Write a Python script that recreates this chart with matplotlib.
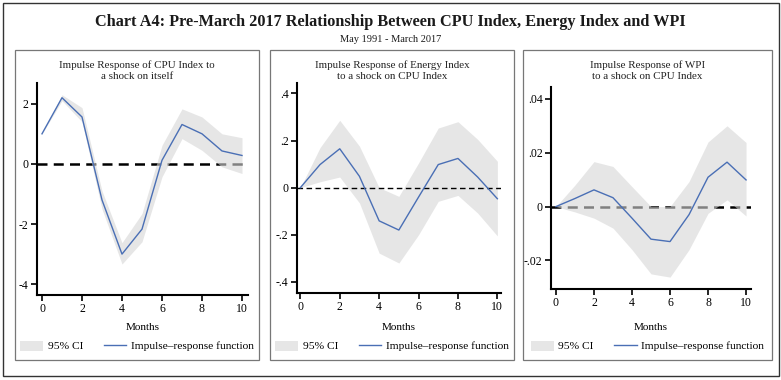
import numpy as np
import matplotlib
matplotlib.use("Agg")
import matplotlib.pyplot as plt
from matplotlib.patches import Rectangle, Patch
from matplotlib.lines import Line2D

plt.rcParams['font.family'] = ['Liberation Serif', 'DejaVu Serif']

months = list(range(11))

# CPU index response to own shock
cpu_irf = [1.0, 2.2, 1.56, -1.2, -3.0, -2.17, 0.12, 1.31, 1.0, 0.43, 0.28]
cpu_hi = [1.0, 2.3, 1.87, -0.9, -2.62, -1.65, 0.62, 1.83, 1.56, 1.0, 0.87]
cpu_lo = [1.0, 2.1, 1.4, -1.5, -3.33, -2.59, -0.43, 0.84, 0.45, -0.1, -0.32]

# Energy index response to CPU shock
energy_irf = [0.0, 0.098, 0.165, 0.048, -0.141, -0.18, -0.04, 0.098, 0.124, 0.045, -0.047]
energy_hi = [0.0, 0.17, 0.286, 0.176, 0.0, -0.037, 0.105, 0.253, 0.28, 0.205, 0.112]
energy_lo = [0.0, 0.025, 0.045, -0.065, -0.278, -0.32, -0.2, -0.058, -0.033, -0.108, -0.205]

# WPI response to CPU shock
wpi_irf = [0.0, 0.003, 0.0062, 0.0033, -0.0043, -0.0121, -0.013, -0.003, 0.0109, 0.0165, 0.0099]
wpi_hi = [0.0, 0.008, 0.0167, 0.0149, 0.0074, 0.0, 0.0, 0.0093, 0.024, 0.030, 0.0238]
wpi_lo = [0.0, -0.002, -0.0043, -0.008, -0.016, -0.025, -0.0262, -0.016, -0.0025, 0.0025, -0.0035]

titles = ["Impulse Response of CPU Index to\na shock on itself",
          "Impulse Response of Energy Index\nto a shock on CPU Index",
          "Impulse Response of WPI\nto a shock on CPU Index"]

W, H = 781, 380
fig = plt.figure(figsize=(W / 100, H / 100), dpi=100)


def fx(px):
    return px / W


def fy(py):
    return 1 - py / H


# outer frame
fig.patches.append(Rectangle((fx(3), fy(376)), fx(776), 373 / H, transform=fig.transFigure,
                             fill=False, edgecolor='#333333', lw=1.0))
fig.text(0.5, fy(22), "Chart A4: Pre-March 2017 Relationship Between CPU Index, Energy Index and WPI",
         ha='center', va='center', fontsize=11.7, fontweight='bold', color='#1a1a1a')
fig.text(0.5, fy(39), "May 1991 - March 2017", ha='center', va='center', fontsize=7.5, color='#1a1a1a')

panels = [
    dict(box=(15, 259), ax=(37, 83, 248, 295), ylim=(-4.36, 2.69), yticks=[-4, -2, 0, 2],
         ylabels=['-4', '-2', '0', '2'], xlim=(-0.25, 10.3),
         data=(cpu_irf, cpu_lo, cpu_hi), zl=dict(lw=1.8, color='black', zorder=1)),
    dict(box=(270, 514), ax=(297, 83.3, 501.3, 292.7), ylim=(-0.446, 0.443),
         yticks=[-0.4, -0.2, 0, 0.2, 0.4], ylabels=['-.4', '-.2', '0', '.2', '.4'],
         xlim=(-0.17, 10.2), data=(energy_irf, energy_lo, energy_hi),
         zl=dict(lw=1.0, color='black', zorder=3)),
    dict(box=(523, 772), ax=(551, 87.3, 751, 288.7), ylim=(-0.0305, 0.0443),
         yticks=[-0.02, 0, 0.02, 0.04], ylabels=['-.02', '0', '.02', '.04'],
         xlim=(-0.26, 10.26), data=(wpi_irf, wpi_lo, wpi_hi),
         zl=dict(lw=1.8, color='black', zorder=1)),
]

for p, title in zip(panels, titles):
    bx0, bx1 = p['box']
    fig.patches.append(Rectangle((fx(bx0), fy(360)), fx(bx1 - bx0), 310 / H,
                                 transform=fig.transFigure, fill=False,
                                 edgecolor='#777777', lw=0.9))
    x0, y0, x1, y1 = p['ax']
    ax = fig.add_axes([fx(x0), fy(y1), fx(x1 - x0), (y1 - y0) / H])
    irf, lo, hi = p['data']
    ax.axhline(0, ls=(0, (4, 2.5)), **p['zl'])
    ax.fill_between(months, lo, hi, color='#d6d6d6', alpha=0.6, lw=0, zorder=2)
    ax.plot(months, irf, color='#4a6fb5', lw=1.0, zorder=4)
    ax.set_xlim(*p['xlim'])
    ax.set_ylim(*p['ylim'])
    ax.set_xticks([0, 2, 4, 6, 8, 10])
    ax.set_yticks(p['yticks'])
    ax.set_yticklabels(p['ylabels'])
    for s in ['top', 'right']:
        ax.spines[s].set_visible(False)
    for s in ['left', 'bottom']:
        ax.spines[s].set_linewidth(1.5)
    ax.tick_params(labelsize=8.5, length=4, width=1.2, pad=2, colors='black')
    ax.patch.set_visible(False)

    cx = (bx0 + bx1) / 2
    fig.text(fx(cx), fy(71), title, ha='center', va='center', fontsize=7.9,
             linespacing=1.3, color='#222222')
    fig.text(fx((x0 + x1) / 2), fy(327), "Months", ha='center', va='center', fontsize=8)
    handles = [Patch(facecolor='#e6e6e6', edgecolor='none'),
               Line2D([0], [0], color='#4a6fb5', lw=1.0)]
    fig.legend(handles, ['95% CI', 'Impulse\u2013response function'], loc='center',
               bbox_to_anchor=(fx(cx), fy(346)), ncol=2, frameon=False, fontsize=8.2,
               handlelength=2.0, handleheight=1.0, columnspacing=1.8, handletextpad=0.4,
               borderpad=0.2)

fig.savefig("out.png", dpi=100)
